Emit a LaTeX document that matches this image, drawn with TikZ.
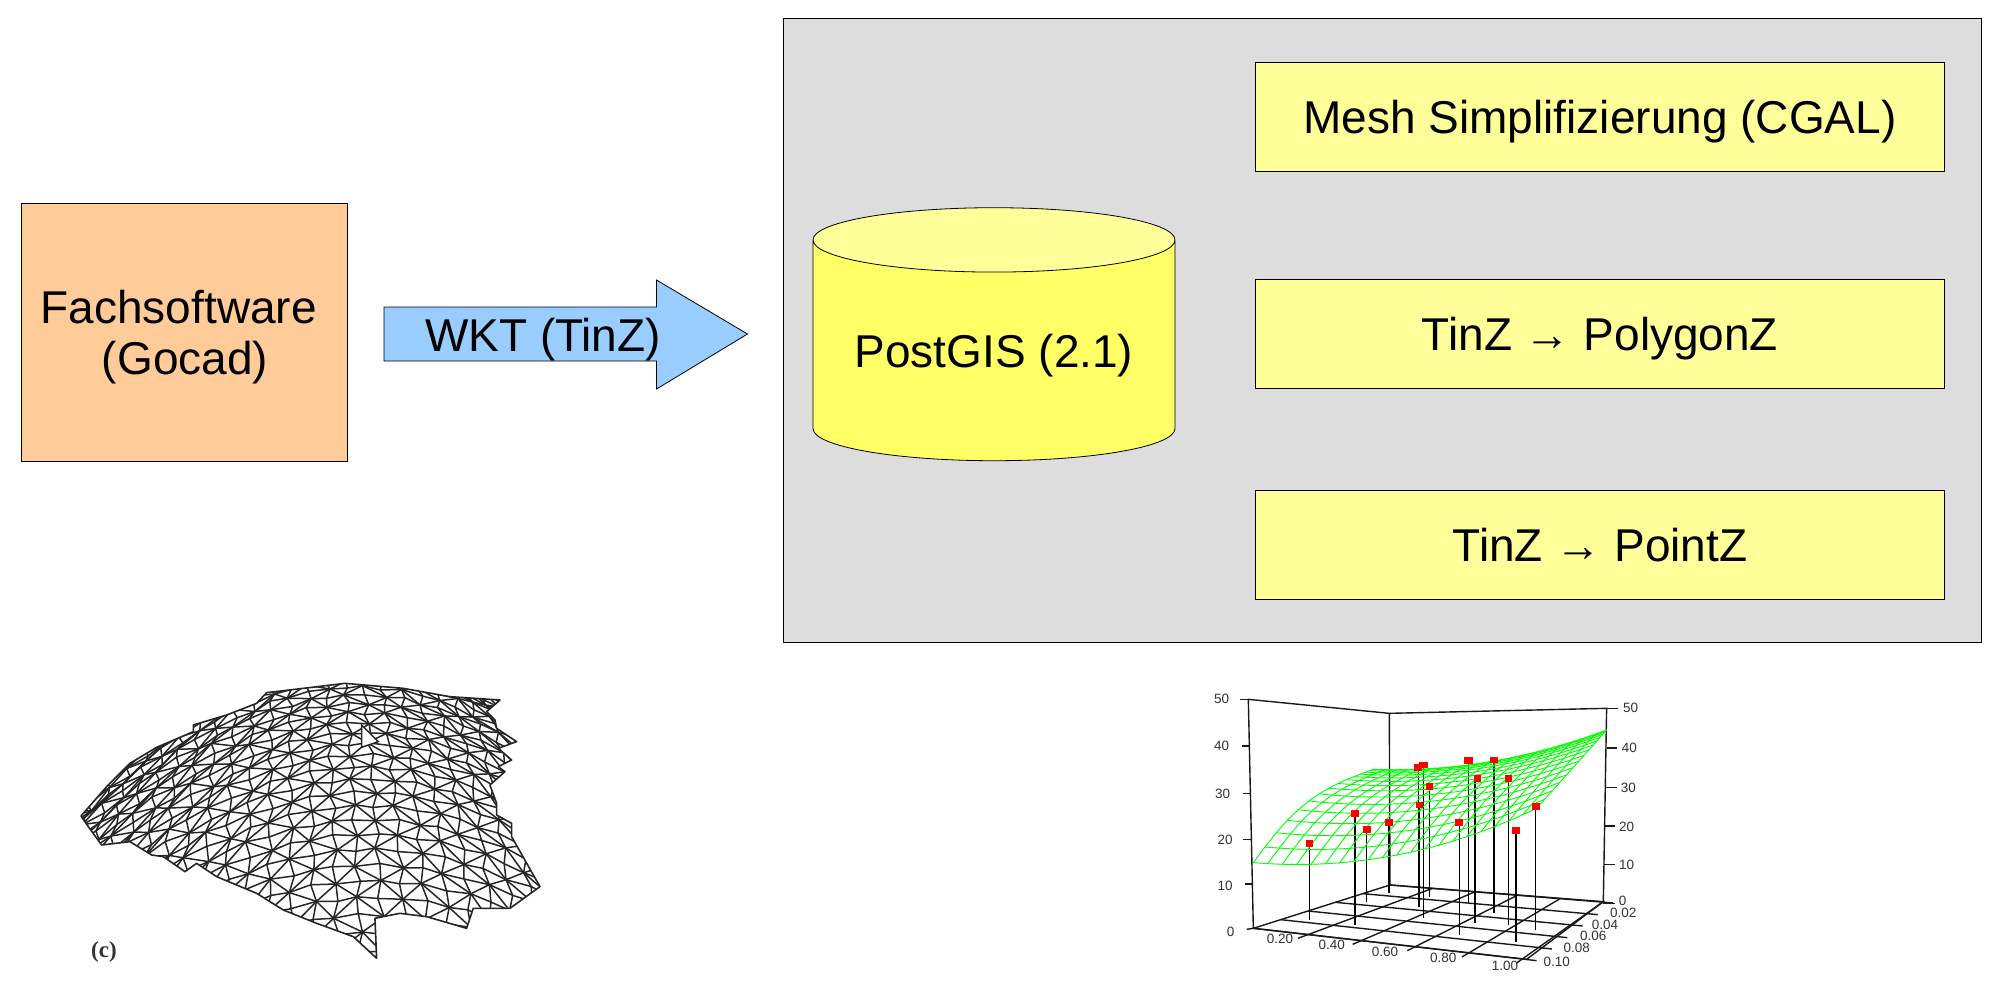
\documentclass[tikz,border=0pt]{standalone}
\usepackage{fontspec}
\setmainfont{Liberation Sans}
\newfontfamily\captionserif{Liberation Serif}
\usetikzlibrary{shapes.geometric}
\definecolor{panelgray}{HTML}{DDDDDD}
\definecolor{boxyellow}{HTML}{FFFF99}
\definecolor{dbyellow}{HTML}{FFFF66}
\definecolor{softorange}{HTML}{FFCC99}
\definecolor{arrowblue}{HTML}{99CCFF}
\definecolor{meshgreen}{HTML}{00FF00}
\tikzset{
	bigtext/.style={font=\fontsize{46}{51}\selectfont},
	evenline/.style={text height=45pt, text depth=11.6pt},
	toolbox/.style={draw=black, line width=0.8pt, fill=boxyellow, minimum width=689pt, minimum height=109pt, inner sep=0pt, bigtext, evenline},
	plotlabel/.style={font=\fontsize{13.5}{14}\selectfont, text=black!80, inner sep=0pt},
}
\begin{document}
\begin{tikzpicture}[x=1pt, y=-1pt, line width=0.8pt]
	\useasboundingbox (0, 0) rectangle (2000, 1005);

	\node[draw, fill=softorange, minimum width=326pt, minimum height=258pt, inner sep=0pt] (fachsoftware) at (184.5, 332) {};
	\node[inner sep=0pt, align=center, bigtext] (fachlabel) at (185, 337) {Fachsoftware\hspace*{12.6pt}\\(Gocad)};

	\draw[fill=arrowblue] (384, 307) -- (656.5, 307) -- (656.5, 280) -- (747.5, 334) -- (656.5, 389) -- (656.5, 361) -- (384, 361) -- cycle;
	\node[bigtext, evenline, inner sep=0pt] (wkt) at (543, 335) {WKT (TinZ)};

	\node[draw, fill=panelgray, minimum width=1198pt, minimum height=624pt, inner sep=0pt] (panel) at (1382, 330) {};

	\node[toolbox] (mesh) at (1600, 117) {Mesh Simplifizierung (CGAL)};
	\node[toolbox] (polygonz) at (1600, 334) {TinZ → PolygonZ};
	\node[toolbox] (pointz) at (1600, 545) {TinZ → PointZ};

	\node[draw, cylinder, shape border rotate=90, aspect=0.231, cylinder uses custom fill, cylinder body fill=dbyellow, cylinder end fill=boxyellow, minimum width=362pt, minimum height=253pt, inner sep=0pt, bigtext, evenline] (postgis) at (994, 350.5) {PostGIS (2.1)};

	% triangulated surface, left picture
	\begin{scope}[shift={(50, 660)}, x=0.3333pt, y=-0.3333pt]
		\foreach \i in {0,...,27} {
			\foreach \j in {-5,...,22} {
				\pgfmathsetmacro{\bx}{60 + 55*\i}
				\pgfmathsetmacro{\bt}{min(max((\bx - 93)/1380, 0), 1)}
				\pgfmathsetmacro{\by}{468 - 410*sin(150*\bt) + 22*\j + 0.8*\j*\j}
				\pgfmathsetmacro{\mx}{\bx + (\bx - 700)*0.012*\j + 9*sin(73*\i + 131*\j)}
				\pgfmathsetmacro{\my}{\by + 5*sin(151*\i + 47*\j)}
				\coordinate (m-\i-\j) at (\mx, \my);
			}
		}
		\begin{scope}
			\clip (93, 468) -- (170, 380) -- (240, 310) -- (320, 262) -- (430, 215) -- (430, 195) -- (530, 165) -- (620, 130) -- (650, 98) -- (760, 85) -- (885, 70) -- (1060, 85) -- (1200, 110) -- (1350, 120) -- (1310, 155) -- (1335, 180) -- (1340, 205) -- (1400, 245) -- (1345, 265) -- (1385, 300) -- (1345, 320) -- (1365, 335) -- (1320, 375) -- (1340, 430) -- (1340, 465) -- (1385, 490) -- (1385, 530) -- (1470, 680) -- (1380, 745) -- (1270, 745) -- (1250, 805) -- (1130, 770) -- (1050, 760) -- (975, 775) -- (980, 895) -- (910, 830) -- (800, 790) -- (700, 750) -- (620, 700) -- (500, 650) -- (440, 610) -- (405, 635) -- (340, 590) -- (305, 585) -- (240, 545) -- (155, 555) -- (115, 500) -- cycle;
			\foreach \i in {0,...,26} {
				\foreach \j in {-5,...,21} {
					\pgfmathtruncatemacro{\ni}{\i + 1}
					\pgfmathtruncatemacro{\nj}{\j + 1}
					\pgfmathtruncatemacro{\pj}{\i + \j}
					\draw[black!85, line width=1.5pt] (m-\i-\j) -- (m-\ni-\j) (m-\i-\j) -- (m-\i-\nj);
					\ifodd\pj
						\draw[black!85, line width=1.5pt] (m-\i-\j) -- (m-\ni-\nj);
					\else
						\draw[black!85, line width=1.5pt] (m-\ni-\j) -- (m-\i-\nj);
					\fi
				}
			}
		\end{scope}
		\draw[black!85, line width=1.6pt, line join=round] (93, 468) -- (170, 380) -- (240, 310) -- (320, 262) -- (430, 215) -- (430, 195) -- (530, 165) -- (620, 130) -- (650, 98) -- (760, 85) -- (885, 70) -- (1060, 85) -- (1200, 110) -- (1350, 120) -- (1310, 155) -- (1335, 180) -- (1340, 205) -- (1400, 245) -- (1345, 265) -- (1385, 300) -- (1345, 320) -- (1365, 335) -- (1320, 375) -- (1340, 430) -- (1340, 465) -- (1385, 490) -- (1385, 530) -- (1470, 680) -- (1380, 745) -- (1270, 745) -- (1250, 805) -- (1130, 770) -- (1050, 760) -- (975, 775) -- (980, 895) -- (910, 830) -- (800, 790) -- (700, 750) -- (620, 700) -- (500, 650) -- (440, 610) -- (405, 635) -- (340, 590) -- (305, 585) -- (240, 545) -- (155, 555) -- (115, 500) -- cycle;
		\draw[black!85, fill=white, line width=1.5pt] (935, 195) -- (985, 245) -- (935, 262) -- cycle;
		\node[font=\fontsize{23}{24}\selectfont\captionserif\bfseries, text=black!80, inner sep=0pt] (caption) at (162, 875) {(c)};
	\end{scope}

	% 3d plot, right picture
	\begin{scope}[shift={(1190, 680)}, x=0.3333pt, y=-0.3333pt]
		\draw[black!90, line width=1.4pt] (190, 745) -- (175, 58) -- (598, 100) -- (1250, 85) -- (1240, 670);
		\draw[black!90, line width=1.4pt] (598, 100) -- (600, 615);
		\foreach \ax/\ay/\bx/\by in {150/58/175/58, 155/198/178/198, 160/340/181/340, 160/478/184/478, 165/612/187/612, 170/748/190/745, 1250/85/1285/85, 1250/204/1280/204, 1246/322/1280/322, 1244/438/1275/438, 1242/553/1275/553, 1240/670/1275/670}
			\draw[black!90, line width=1.4pt] (\ax, \ay) -- (\bx, \by);

		% floor
		\draw[black!90, line width=1.4pt] (190, 745) -- (600, 615) -- (1240, 665) -- (1010, 838) -- cycle;
		\foreach \ax/\ay/\bx/\by in {354/764/728/625, 518/782/856/635, 682/801/984/645, 846/820/1112/655, 1010/838/1240/665}
			\draw[black!90, line width=1.4pt] (\ax - 30, \ay + 11) -- (\bx, \by);
		\foreach \ax/\ay/\bx/\by in {272/719/1056/803, 354/693/1102/769, 436/667/1148/734, 518/641/1194/700, 600/615/1240/665, 190/745/1010/838}
			\draw[black!90, line width=1.4pt] (\ax, \ay) -- (\bx + 30, \by + 4);

		% stems
		\foreach \sx/\st/\sb in {358/490/720, 495/400/735, 530/448/665, 597/428/640, 688/375/680, 685/262/680, 700/255/715, 718/320/650, 808/428/765, 835/242/670, 855/295/730, 912/240/700, 955/295/735, 978/452/785, 1037/380/750}
			\draw[black, line width=1.6pt] (\sx, \st) -- (\sx, \sb);

		% fitted surface
		\foreach \i in {0,...,20} {
			\foreach \j in {0,...,15} {
				\pgfmathsetmacro{\pu}{\i/20}
				\pgfmathsetmacro{\pv}{1 - pow(1 - \j/15, 1.8)}
				\pgfmathsetmacro{\sb}{sin(180*\pv)*(1 - \pu)}
				\pgfmathsetmacro{\fx}{(1-\pu)*(1-\pu)*190 + 2*\pu*(1-\pu)*625 + \pu*\pu*1040}
				\pgfmathsetmacro{\fy}{(1-\pu)*(1-\pu)*548 + 2*\pu*(1-\pu)*584 + \pu*\pu*385}
				\pgfmathsetmacro{\gx}{(1-\pu)*(1-\pu)*550 + 2*\pu*(1-\pu)*900 + \pu*\pu*1250}
				\pgfmathsetmacro{\gy}{(1-\pu)*(1-\pu)*268 + 2*\pu*(1-\pu)*281 + \pu*\pu*150}
				\coordinate (s-\i-\j) at ({(1-\pv)*\fx + \pv*\gx - 20*\sb}, {(1-\pv)*\fy + \pv*\gy - 40*\sb});
			}
		}
		\foreach \i in {0,...,20} {
			\foreach \j in {0,...,14} {
				\pgfmathtruncatemacro{\nj}{\j + 1}
				\draw[meshgreen, line width=0.9pt] (s-\i-\j) -- (s-\i-\nj);
			}
		}
		\foreach \j in {0,...,15} {
			\foreach \i in {0,...,19} {
				\pgfmathtruncatemacro{\ni}{\i + 1}
				\draw[meshgreen, line width=0.9pt] (s-\i-\j) -- (s-\ni-\j);
			}
		}

		% measured points
		\foreach \sx/\st/\sw in {358/490/10, 495/400/11, 530/448/12, 597/428/11, 688/375/11, 685/262/12, 700/255/13, 718/320/11, 808/428/12, 835/242/13, 862/295/11, 912/240/13, 955/295/11, 978/452/12, 1037/380/12}
			\fill[red] (\sx - \sw, \st - 10) rectangle (\sx + \sw, \st + 10);

		\foreach \lx/\ly/\lab in {95/58/50, 95/198/40, 98/342/30, 105/480/20, 105/618/10, 122/755/0, 1322/85/50, 1318/204/40, 1315/325/30, 1310/440/20, 1310/555/10, 1298/662/0, 1300/699/0.02, 1245/735/0.04, 1210/769/0.06, 1160/803/0.08, 1100/845/0.10, 270/778/0.20, 425/795/0.40, 585/817/0.60, 760/835/0.80, 945/858/1.00}
			\node[plotlabel] (lab-\lx-\ly) at (\lx, \ly) {\lab};
	\end{scope}
\end{tikzpicture}
\end{document}
